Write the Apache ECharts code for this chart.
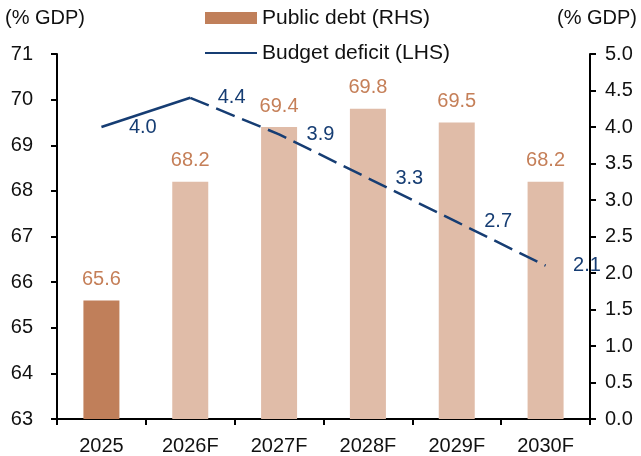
<!DOCTYPE html>
<html>
<head>
<meta charset="utf-8">
<script src="https://cdn.jsdelivr.net/npm/echarts@6/dist/echarts.min.js"></script>
<style>
  html, body { margin: 0; padding: 0; background: #fff; }
  #chart { width: 641px; height: 456px; }
</style>
</head>
<body>
<div id="chart"></div>
<script>
const categories = ['2025', '2026F', '2027F', '2028F', '2029F', '2030F']
const publicDebt = [65.6, 68.2, 69.4, 69.8, 69.5, 68.2]
const budgetDeficit = [4.0, 4.4, 3.9, 3.3, 2.7, 2.1]
const lastActual = 1 // solid line up to 2026F, dashed afterwards
const leftTicks = { min: 63, max: 71, interval: 1 }
const rightTicks = { min: 0, max: 5, interval: 0.5 }

const FONT = '"Liberation Sans", Arial, sans-serif'
const NAVY = '#163d73'
const DEBT_DARK = '#c07f5a'
const DEBT_LIGHT = '#e0bca8'
const DEBT_TEXT = '#c57f58'

const chart = echarts.init(document.getElementById('chart'))

const axisCommon = {
  axisLine: { show: true, lineStyle: { color: '#000', width: 2 } },
  axisTick: { show: true, inside: false, length: 6, lineStyle: { color: '#000', width: 2 } },
  splitLine: { show: false },
}

const lineLabel = {
  position: 'right',
  distance: 27,
  color: NAVY,
  fontSize: 20,
  fontFamily: FONT,
  formatter: p => Number(p.value).toFixed(1),
}

// symbols are kept (invisible) so the point labels are drawn
const solidData = budgetDeficit.map((v, i) => (i <= lastActual ? v : '-'))
const dashedData = budgetDeficit.map((v, i) => {
  if (i < lastActual) return '-'
  return { value: v, label: { show: i > lastActual } }
})

const option = {
  animation: false,
  backgroundColor: '#fff',
  textStyle: { fontFamily: FONT },
  grid: { left: 57, right: 51, top: 54, bottom: 36 },
  legend: {
    orient: 'vertical',
    left: 205,
    top: 7,
    padding: 0,
    itemWidth: 52,
    itemHeight: 12,
    itemGap: 13,
    textStyle: { fontFamily: FONT, fontSize: 21, color: '#111', lineHeight: 22 },
    data: [
      { name: 'Public debt (RHS)', icon: 'rect', itemStyle: { color: DEBT_DARK } },
      { name: 'Budget deficit (LHS)', icon: 'path://M0,0 L52,0 L52,2.2 L0,2.2 Z', itemStyle: { color: NAVY } },
    ],
  },
  graphic: [
    { type: 'text', left: 5, top: 8, style: { text: '(% GDP)', font: '20px ' + FONT, fill: '#111' } },
    { type: 'text', right: 4, top: 8, style: { text: '(% GDP)', font: '20px ' + FONT, fill: '#111' } },
  ],
  xAxis: {
    type: 'category',
    data: categories,
    boundaryGap: true,
    ...axisCommon,
    axisTick: { show: true, length: 6, alignWithLabel: false, lineStyle: { color: '#000', width: 2 } },
    axisLabel: { color: '#111', fontSize: 20, fontFamily: FONT, margin: 17 },
  },
  yAxis: [
    {
      type: 'value',
      position: 'left',
      ...leftTicks,
      ...axisCommon,
      axisLabel: { color: '#111', fontSize: 20, fontFamily: FONT, margin: 24 },
    },
    {
      type: 'value',
      position: 'right',
      ...rightTicks,
      ...axisCommon,
      axisLabel: {
        color: '#111', fontSize: 20, fontFamily: FONT, margin: 15,
        formatter: v => v.toFixed(1),
      },
    },
  ],
  series: [
    {
      name: 'Public debt (RHS)',
      type: 'bar',
      yAxisIndex: 0,
      barWidth: 36,
      data: publicDebt.map((v, i) => ({
        value: v,
        itemStyle: { color: i <= 0 ? DEBT_DARK : DEBT_LIGHT },
      })),
      label: {
        show: true,
        position: 'top',
        distance: 11,
        color: DEBT_TEXT,
        fontSize: 20,
        fontFamily: FONT,
        formatter: p => p.value.toFixed(1),
      },
    },
    {
      name: 'Budget deficit (LHS)',
      type: 'line',
      yAxisIndex: 1,
      data: solidData,
      symbol: 'circle',
      symbolSize: 1,
      showSymbol: true,
      lineStyle: { color: NAVY, width: 2.5 },
      itemStyle: { color: 'rgba(0,0,0,0)' },
      label: { show: true, ...lineLabel },
      z: 5,
    },
    {
      name: 'Budget deficit (LHS)',
      type: 'line',
      yAxisIndex: 1,
      data: dashedData,
      symbol: 'circle',
      symbolSize: 1,
      showSymbol: true,
      lineStyle: { color: NAVY, width: 2.5, type: [20, 8] },
      itemStyle: { color: 'rgba(0,0,0,0)' },
      label: lineLabel,
      z: 5,
    },
  ],
}

chart.setOption(option)
window.addEventListener('resize', () => chart.resize())
</script>
</body>
</html>
